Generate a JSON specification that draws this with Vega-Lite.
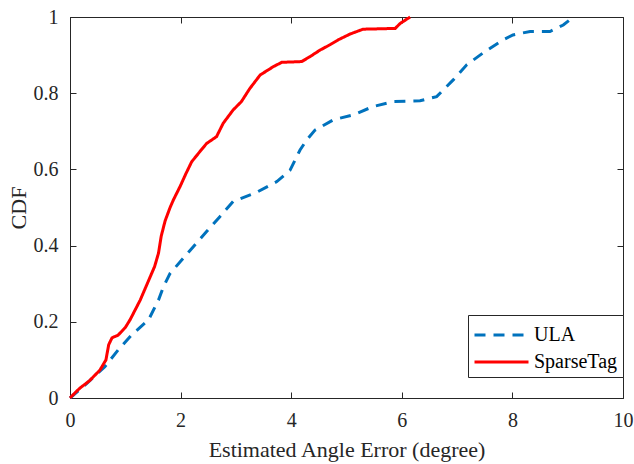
{
  "$schema": "https://vega.github.io/schema/vega-lite/v6.json",
  "width": 553,
  "height": 381,
  "autosize": {"type": "none"},
  "padding": {"left": 70, "top": 17, "right": 11, "bottom": 66},
  "background": "white",
  "config": {
    "view": {"stroke": "#262626", "strokeWidth": 1},
    "font": "Liberation Serif",
    "axis": {
      "labelFont": "Liberation Serif",
      "titleFont": "Liberation Serif",
      "labelFontSize": 20,
      "titleFontSize": 22,
      "titleFontWeight": "normal",
      "labelColor": "#262626",
      "titleColor": "#262626",
      "domainColor": "#262626",
      "tickColor": "#262626",
      "gridColor": "#e3e3e3",
      "gridWidth": 1,
      "tickSize": -6,
      "labelFlush": false,
      "labelExpr": "'' + datum.value"
    }
  },
  "datasets": {
    "cdf": [
      {"method": "ULA", "err": 0, "cdf": 0},
      {"method": "ULA", "err": 0.3, "cdf": 0.038},
      {"method": "ULA", "err": 0.63, "cdf": 0.082},
      {"method": "ULA", "err": 0.87, "cdf": 0.126},
      {"method": "ULA", "err": 1.11, "cdf": 0.165},
      {"method": "ULA", "err": 1.42, "cdf": 0.205},
      {"method": "ULA", "err": 1.6, "cdf": 0.257},
      {"method": "ULA", "err": 1.69, "cdf": 0.292},
      {"method": "ULA", "err": 1.81, "cdf": 0.327},
      {"method": "ULA", "err": 2.02, "cdf": 0.362},
      {"method": "ULA", "err": 2.23, "cdf": 0.397},
      {"method": "ULA", "err": 2.47, "cdf": 0.437},
      {"method": "ULA", "err": 2.71, "cdf": 0.476},
      {"method": "ULA", "err": 2.95, "cdf": 0.516},
      {"method": "ULA", "err": 3.35, "cdf": 0.538},
      {"method": "ULA", "err": 3.74, "cdf": 0.568},
      {"method": "ULA", "err": 3.98, "cdf": 0.598},
      {"method": "ULA", "err": 4.16, "cdf": 0.651},
      {"method": "ULA", "err": 4.28, "cdf": 0.677},
      {"method": "ULA", "err": 4.43, "cdf": 0.703},
      {"method": "ULA", "err": 4.76, "cdf": 0.73},
      {"method": "ULA", "err": 5.12, "cdf": 0.743},
      {"method": "ULA", "err": 5.48, "cdf": 0.765},
      {"method": "ULA", "err": 5.85, "cdf": 0.778},
      {"method": "ULA", "err": 6.33, "cdf": 0.78},
      {"method": "ULA", "err": 6.63, "cdf": 0.791},
      {"method": "ULA", "err": 6.93, "cdf": 0.835},
      {"method": "ULA", "err": 7.17, "cdf": 0.874},
      {"method": "ULA", "err": 7.5, "cdf": 0.909},
      {"method": "ULA", "err": 7.83, "cdf": 0.94},
      {"method": "ULA", "err": 8.01, "cdf": 0.953},
      {"method": "ULA", "err": 8.32, "cdf": 0.962},
      {"method": "ULA", "err": 8.68, "cdf": 0.962},
      {"method": "ULA", "err": 8.92, "cdf": 0.979},
      {"method": "ULA", "err": 9.1, "cdf": 1.0},
      {"method": "SparseTag", "err": 0, "cdf": 0},
      {"method": "SparseTag", "err": 0.1, "cdf": 0.015},
      {"method": "SparseTag", "err": 0.18, "cdf": 0.026},
      {"method": "SparseTag", "err": 0.35, "cdf": 0.045},
      {"method": "SparseTag", "err": 0.54, "cdf": 0.073},
      {"method": "SparseTag", "err": 0.65, "cdf": 0.1},
      {"method": "SparseTag", "err": 0.7, "cdf": 0.14},
      {"method": "SparseTag", "err": 0.76, "cdf": 0.158},
      {"method": "SparseTag", "err": 0.87, "cdf": 0.165},
      {"method": "SparseTag", "err": 1.0, "cdf": 0.185},
      {"method": "SparseTag", "err": 1.085, "cdf": 0.205},
      {"method": "SparseTag", "err": 1.27, "cdf": 0.257},
      {"method": "SparseTag", "err": 1.45, "cdf": 0.318},
      {"method": "SparseTag", "err": 1.53, "cdf": 0.345},
      {"method": "SparseTag", "err": 1.6, "cdf": 0.38},
      {"method": "SparseTag", "err": 1.65, "cdf": 0.425},
      {"method": "SparseTag", "err": 1.72, "cdf": 0.465},
      {"method": "SparseTag", "err": 1.81, "cdf": 0.5},
      {"method": "SparseTag", "err": 1.87, "cdf": 0.52},
      {"method": "SparseTag", "err": 1.99, "cdf": 0.555},
      {"method": "SparseTag", "err": 2.1, "cdf": 0.59},
      {"method": "SparseTag", "err": 2.2, "cdf": 0.62},
      {"method": "SparseTag", "err": 2.35, "cdf": 0.647},
      {"method": "SparseTag", "err": 2.47, "cdf": 0.668},
      {"method": "SparseTag", "err": 2.65, "cdf": 0.686},
      {"method": "SparseTag", "err": 2.77, "cdf": 0.721},
      {"method": "SparseTag", "err": 2.95, "cdf": 0.756},
      {"method": "SparseTag", "err": 3.1, "cdf": 0.778},
      {"method": "SparseTag", "err": 3.25, "cdf": 0.812},
      {"method": "SparseTag", "err": 3.44, "cdf": 0.848},
      {"method": "SparseTag", "err": 3.55, "cdf": 0.858},
      {"method": "SparseTag", "err": 3.68, "cdf": 0.87},
      {"method": "SparseTag", "err": 3.83, "cdf": 0.881},
      {"method": "SparseTag", "err": 4.19, "cdf": 0.883},
      {"method": "SparseTag", "err": 4.34, "cdf": 0.896},
      {"method": "SparseTag", "err": 4.52, "cdf": 0.913},
      {"method": "SparseTag", "err": 4.7, "cdf": 0.927},
      {"method": "SparseTag", "err": 4.85, "cdf": 0.94},
      {"method": "SparseTag", "err": 5.06, "cdf": 0.955},
      {"method": "SparseTag", "err": 5.3, "cdf": 0.968},
      {"method": "SparseTag", "err": 5.88, "cdf": 0.97},
      {"method": "SparseTag", "err": 5.97, "cdf": 0.983},
      {"method": "SparseTag", "err": 6.15, "cdf": 1.0}
    ]
  },
  "data": {"name": "cdf"},
  "layer": [
    {
      "mark": {"type": "point", "opacity": 0},
      "encoding": {
        "x": {"field": "err", "type": "quantitative",
              "scale": {"domain": [0, 10], "nice": false, "zero": false},
              "axis": {"orient": "top", "labels": false, "grid": false, "title": null, "values": [0,2,4,6,8,10], "domain": false}},
        "y": {"field": "cdf", "type": "quantitative",
              "scale": {"domain": [0, 1], "nice": false},
              "axis": {"orient": "right", "labels": false, "grid": false, "title": null, "values": [0,0.2,0.4,0.6,0.8,1], "domain": false}}
      }
    },
    {
      "mark": {"type": "line", "strokeWidth": 3, "interpolate": "linear"},
      "encoding": {
        "x": {"field": "err", "type": "quantitative",
              "scale": {"domain": [0, 10], "nice": false, "zero": false},
              "axis": {"orient": "bottom", "title": "Estimated Angle Error (degree)", "values": [0,2,4,6,8,10], "labelPadding": 18, "titlePadding": 9}},
        "y": {"field": "cdf", "type": "quantitative",
              "scale": {"domain": [0, 1], "nice": false},
              "axis": {"orient": "left", "title": "CDF", "values": [0,0.2,0.4,0.6,0.8,1], "labelPadding": 18, "titlePadding": 3}},
        "color": {"field": "method", "type": "nominal",
                  "scale": {"domain": ["ULA", "SparseTag"], "range": ["#0072BD", "#FF0000"]},
                  "legend": {"orient": "none", "legendX": 398, "legendY": 298, "title": null,
                             "strokeColor": "#262626", "fillColor": "white", "padding": 5,
                             "symbolType": "M-1,0H3", "symbolSize": 729, "symbolStrokeWidth": 3,
                             "labelFont": "Liberation Serif", "labelFontSize": 20, "labelColor": "#000000",
                             "rowPadding": 2, "labelOffset": 31, "cornerRadius": 0}},
        "strokeDash": {"field": "method", "type": "nominal",
                       "scale": {"domain": ["ULA", "SparseTag"], "range": [[11, 8], [1, 0]]},
                       "legend": null},
        "order": {"field": "err", "type": "quantitative"}
      }
    }
  ],
  "resolve": {"axis": {"x": "independent", "y": "independent"}}
}
